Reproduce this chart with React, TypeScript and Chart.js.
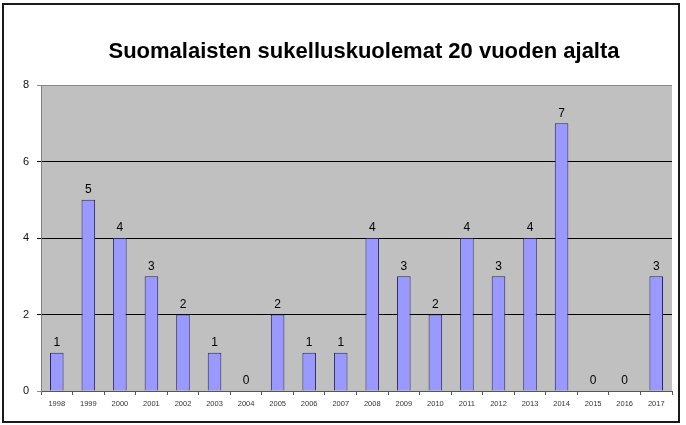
import React, { useEffect, useRef } from "react";
import { Chart, registerables } from "chart.js";

Chart.register(...registerables);

const TITLE = "Suomalaisten sukelluskuolemat 20 vuoden ajalta";
const YEARS = ["1998","1999","2000","2001","2002","2003","2004","2005","2006","2007","2008","2009","2010","2011","2012","2013","2014","2015","2016","2017"];
const DEATHS = [1,5,4,3,2,1,0,2,1,1,4,3,2,4,3,4,7,0,0,3];
const Y_MIN = 0;
const Y_MAX = 8;
const Y_STEP = 2;

const FONT = "'Liberation Sans', Arial, sans-serif";

const framePlugin = {
  id: "frame",
  beforeDraw(chart: any) {
    const { ctx, chartArea } = chart;
    ctx.save();
    ctx.fillStyle = "#ffffff";
    ctx.fillRect(0, 0, chart.width, chart.height);
    ctx.fillStyle = "#c0c0c0";
    ctx.fillRect(chartArea.left, chartArea.top, chartArea.right - chartArea.left, chartArea.bottom - chartArea.top);
    ctx.restore();
  },
  afterDraw(chart: any) {
    const { ctx } = chart;
    ctx.save();
    ctx.strokeStyle = "#1a1a1a";
    ctx.lineWidth = 2;
    ctx.strokeRect(3, 4, 676, 418);
    ctx.fillStyle = "#000000";
    ctx.font = `bold 22px ${FONT}`;
    ctx.textAlign = "center";
    ctx.textBaseline = "alphabetic";
    ctx.fillText(TITLE, 364, 58);
    const meta = chart.getDatasetMeta(0);
    ctx.font = `12px ${FONT}`;
    ctx.textBaseline = "bottom";
    meta.data.forEach((bar: any, i: number) => {
      ctx.fillText(String(DEATHS[i]), bar.x, bar.y - 4);
    });
    ctx.restore();
  },
};

export default function App() {
  const ref = useRef<HTMLCanvasElement>(null);
  useEffect(() => {
    if (!ref.current) return;
    const chart = new Chart(ref.current, {
      type: "bar",
      data: {
        labels: YEARS,
        datasets: [
          {
            data: DEATHS,
            backgroundColor: "#9999ff",
            borderColor: "#262660",
            borderWidth: 1,
            categoryPercentage: 1,
            barPercentage: 0.43,
          },
        ],
      },
      options: {
        animation: false,
        responsive: false,
        layout: { padding: { left: 0, right: 14, top: 85, bottom: 0 } },
        plugins: { legend: { display: false }, tooltip: { enabled: false }, title: { display: false } },
        scales: {
          x: {
            grid: { display: true, drawOnChartArea: false, tickLength: 4, color: "#555555", offset: true },
            border: { display: true, color: "#555555", width: 1 },
            ticks: { font: { family: FONT, size: 7.5 }, color: "#333333", padding: 4, maxRotation: 0, autoSkip: false },
            afterFit(scale: any) { scale.height = 34; },
          },
          y: {
            min: Y_MIN,
            max: Y_MAX,
            ticks: { stepSize: Y_STEP, font: { family: FONT, size: 11 }, color: "#111111", padding: 8 },
            grid: {
              tickLength: 4,
              color: (c: any) => (c.tick && (c.tick.value === Y_MAX || c.tick.value === Y_MIN) ? "#8a8a8a" : "#000000"),
            },
            border: { display: true, color: "#808080", width: 1 },
            afterFit(scale: any) { scale.width = 41; },
          },
        },
      },
      plugins: [framePlugin],
    });
    return () => chart.destroy();
  }, []);
  return (
    <div style={{ position: "fixed", left: 0, top: 0, width: 686, height: 425, background: "#fff" }}>
      <canvas ref={ref} width={686} height={425} style={{ display: "block" }} />
    </div>
  );
}
